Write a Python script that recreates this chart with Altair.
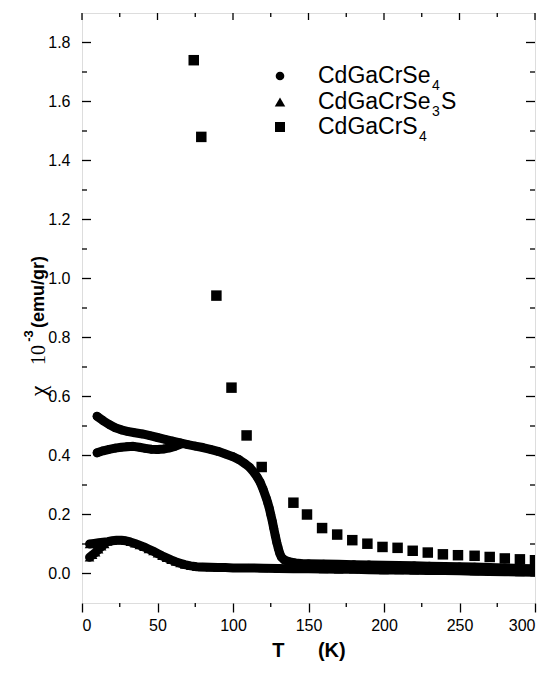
import altair as alt
import pandas as pd

# ---------------- data ----------------
# CdGaCrSe4, upper branch
se4_a_T = [10, 14, 18, 22, 26, 30, 35, 40, 45, 50, 55, 60, 65, 70, 75, 80, 85, 90, 95, 100,
           104, 108, 111, 114, 116, 118, 120, 122, 123, 124, 125, 126, 127, 128, 129, 130,
           131, 132, 134, 137, 141, 145, 150, 160, 170, 180, 190, 200, 210, 220, 230, 240,
           250, 260, 270, 280, 290, 300]
se4_a_chi = [0.533, 0.518, 0.505, 0.494, 0.487, 0.482, 0.477, 0.473, 0.467, 0.461, 0.455,
             0.449, 0.443, 0.437, 0.432, 0.427, 0.421, 0.414, 0.405, 0.396, 0.386, 0.372,
             0.360, 0.342, 0.327, 0.309, 0.285, 0.256, 0.240, 0.222, 0.200, 0.178, 0.153,
             0.128, 0.105, 0.085, 0.068, 0.056, 0.046, 0.040, 0.036, 0.034, 0.033, 0.032,
             0.031, 0.030, 0.029, 0.028, 0.027, 0.026, 0.025, 0.024, 0.023, 0.022, 0.020,
             0.019, 0.017, 0.016]
# CdGaCrSe4, lower branch
se4_b_T = [10, 14, 18, 22, 26, 30, 34, 38, 42, 46, 50, 54, 58, 62, 66]
se4_b_chi = [0.409, 0.416, 0.421, 0.425, 0.428, 0.430, 0.431, 0.428, 0.424, 0.421, 0.420,
             0.422, 0.426, 0.432, 0.440]
# CdGaCrSe3S, main branch
se3s_a_T = [5, 8, 11, 14, 17, 20, 23, 26, 29, 32, 35, 38, 41, 44, 47, 50, 53, 56, 59, 62, 65,
            68, 72, 76, 80, 85, 90, 95, 100, 110, 120, 130, 140, 150, 160, 170, 180, 190, 200,
            210, 220, 230, 240, 250, 260, 270, 280, 290, 300]
se3s_a_chi = [0.100, 0.102, 0.104, 0.106, 0.108, 0.111, 0.113, 0.113, 0.111, 0.107, 0.102,
              0.096, 0.090, 0.083, 0.076, 0.068, 0.060, 0.053, 0.046, 0.040, 0.035, 0.030,
              0.026, 0.023, 0.022, 0.021, 0.020, 0.020, 0.019, 0.019, 0.018, 0.017, 0.016,
              0.016, 0.015, 0.014, 0.014, 0.013, 0.012, 0.012, 0.011, 0.010, 0.010, 0.009,
              0.008, 0.007, 0.006, 0.005, 0.004]
# CdGaCrSe3S, low-temperature lower branch
se3s_b_T = [5, 7, 9, 11, 13, 15]
se3s_b_chi = [0.055, 0.063, 0.072, 0.082, 0.092, 0.100]
# CdGaCrS4
s4_T = [74, 79, 89, 99, 109, 119, 140, 149, 159, 169, 179, 189, 199, 209, 219, 229, 239,
        249, 260, 270, 280, 290, 300]
s4_chi = [1.74, 1.48, 0.942, 0.630, 0.468, 0.361, 0.240, 0.200, 0.154, 0.132, 0.113, 0.101,
          0.090, 0.087, 0.077, 0.071, 0.065, 0.062, 0.060, 0.056, 0.051, 0.048, 0.045]

x_major = [0, 50, 100, 150, 200, 250, 300]
x_minor = [25, 75, 125, 175, 225, 275]
y_major = [0.0, 0.2, 0.4, 0.6, 0.8, 1.0, 1.2, 1.4, 1.6, 1.8]
y_minor = [0.1, 0.3, 0.5, 0.7, 0.9, 1.1, 1.3, 1.5, 1.7]

series_names = ["Se4", "Se3S", "S4"]

# ---------------- build table ----------------
rows = []
for T, v in zip(se4_a_T, se4_a_chi):
    rows.append({"T": T, "chi": v, "series": "Se4", "branch": "Se4a"})
for T, v in zip(se4_b_T, se4_b_chi):
    rows.append({"T": T, "chi": v, "series": "Se4", "branch": "Se4b"})
for T, v in zip(se3s_a_T, se3s_a_chi):
    rows.append({"T": T, "chi": v, "series": "Se3S", "branch": "Se3Sa"})
for T, v in zip(se3s_b_T, se3s_b_chi):
    rows.append({"T": T, "chi": v, "series": "Se3S", "branch": "Se3Sb"})
for T, v in zip(s4_T, s4_chi):
    rows.append({"T": T, "chi": v, "series": "S4", "branch": "S4"})
df = pd.DataFrame(rows)

W, H = 453, 590
FONT = "Liberation Sans"
NB = "\u00a0"
xs = alt.Scale(domain=[0, 300], nice=False, zero=False)
ys = alt.Scale(domain=[-0.1, 1.9], nice=False, zero=False)

x_axis = alt.Axis(
    values=x_major, title="T" + NB * 6 + "(K)", format="d", grid=False, domain=False,
    ticks=True, tickSize=9, tickWidth=1.3, tickColor="black", labelPadding=5,
    labelFont=FONT, labelFontSize=16, labelColor="black",
    titleFont=FONT, titleFontSize=20, titleFontWeight="bold", titleColor="black",
    titlePadding=7)
y_axis = alt.Axis(
    values=y_major, format=".1f", title=None, grid=False, domain=False,
    ticks=False, labelPadding=12, labelFont=FONT, labelFontSize=16, labelColor="black")

X = alt.X("T:Q", scale=xs, axis=x_axis)
Y = alt.Y("chi:Q", scale=ys, axis=y_axis)

base = alt.Chart(df)

bands = base.transform_filter(alt.datum.series != "S4").mark_line(
    color="black", strokeWidth=9, strokeCap="round", strokeJoin="round", clip=True
).encode(x=X, y=Y, detail="branch:N", order="T:Q")

points = base.mark_point(filled=True, color="black", opacity=1, clip=True).encode(
    x=X, y=Y,
    shape=alt.Shape("series:N", scale=alt.Scale(domain=series_names,
                    range=["circle", "triangle-up", "square"]), legend=None),
    size=alt.Size("series:N", scale=alt.Scale(domain=series_names, range=[75, 110, 100]),
                  legend=None),
)

def xticks(vals, ypix, length):
    return alt.Chart(pd.DataFrame({"T": vals})).mark_tick(
        orient="vertical", size=length, thickness=1.3, color="black", opacity=1
    ).encode(x=X, y=alt.value(ypix))

def yticks(vals, xpix, length):
    return alt.Chart(pd.DataFrame({"chi": vals})).mark_tick(
        orient="horizontal", size=length, thickness=1.3, color="black", opacity=1
    ).encode(y=Y, x=alt.value(xpix))

tick_layers = [
    xticks(x_major, 3.5, 7), xticks(x_minor, 2, 4),
    xticks(x_minor, H + 2, 4),
    yticks(y_major, 4.5, 9), yticks(y_minor, 2.5, 5),
    yticks(y_major, W - 4.5, 9), yticks(y_minor, W - 2.5, 5),
]

one = pd.DataFrame({"k": [0]})

def txt(s, x, y, size, font=FONT, weight="normal", angle=0, align="left"):
    return alt.Chart(one).mark_text(
        align=align, baseline="middle", font=font, fontSize=size, fontWeight=weight,
        color="black", angle=angle
    ).encode(x=alt.value(x), y=alt.value(y), text=alt.value(s))

def sym(shape, x, y, size):
    return alt.Chart(one).mark_point(shape=shape, filled=True, color="black", opacity=1,
                                     size=size).encode(x=alt.value(x), y=alt.value(y))

# legend (plot coordinates)
lx, tx = 198, 236
r1, r2, r3 = 63, 89, 114
legend_layers = [
    sym("circle", lx, r1, 75), txt("CdGaCrSe", tx, r1, 23), txt("4", tx + 114, r1 + 10, 14),
    sym("triangle-up", lx, r2, 110), txt("CdGaCrSe", tx, r2, 23), txt("3", tx + 114, r2 + 10, 14),
    txt("S", tx + 123, r2, 23),
    sym("square", lx, r3, 100), txt("CdGaCrS", tx, r3, 23), txt("4", tx + 101, r3 + 10, 14),
]

# y-axis title, rotated pieces
ytitle_layers = [
    txt("\u03c7", -43, 378, 24, font="Liberation Serif", angle=270, align="center"),
    txt("10", -43, 342, 20, font="Liberation Serif", angle=270, align="center"),
    txt("-3", -53, 323, 13, font=FONT, weight="bold", angle=270, align="center"),
    txt("(emu/gr)", -43, 279, 18, font=FONT, weight="bold", angle=270, align="center"),
]

chart = alt.layer(bands, points, *tick_layers, *legend_layers, *ytitle_layers).properties(
    width=W, height=H,
    autosize=alt.AutoSizeParams(type="none"),
    padding={"left": 74, "top": 5, "right": 8, "bottom": 62},
).configure_view(stroke="black", strokeWidth=1.5).configure(background="white")

chart.save("out.html", embed_options={"renderer": "svg", "actions": False})
